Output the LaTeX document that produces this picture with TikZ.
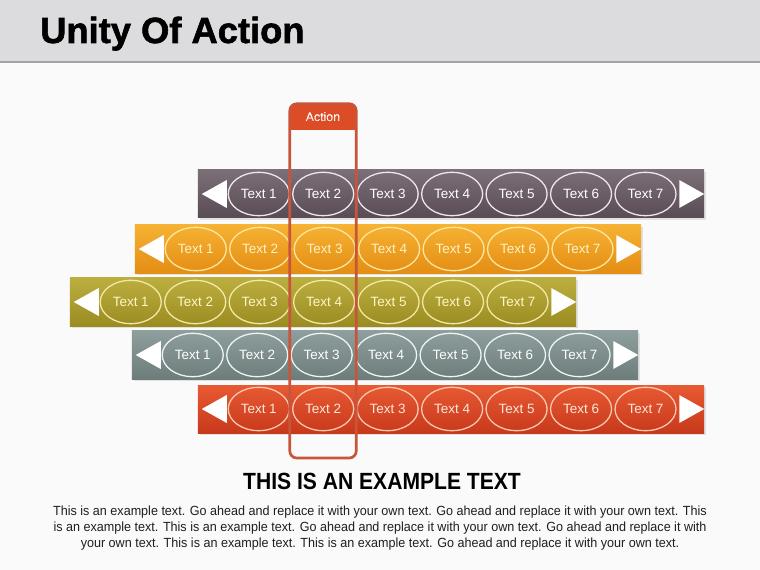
\documentclass[tikz,border=0pt]{standalone}
\usepackage{fontspec}
\setmainfont{Liberation Sans}
\newfontfamily\narrowfont[FakeStretch=0.9]{Liberation Sans}
\newfontfamily\bodyfont[FakeStretch=0.95]{Liberation Sans}
\newfontfamily\heavyfont[FakeBold=1.6]{Liberation Sans Bold}
\usetikzlibrary{positioning,shapes.geometric,shadows}

\definecolor{pagebg}{HTML}{FAFAFA}
\definecolor{titlebg}{HTML}{DCDBDD}
\definecolor{titleline}{HTML}{A3A3A5}
\definecolor{mauveA}{HTML}{7D6F78}
\definecolor{mauveB}{HTML}{594B54}
\definecolor{mauveL}{HTML}{EFE6EE}
\definecolor{mauveT}{HTML}{FFFFFF}
\definecolor{orangeA}{HTML}{F6B233}
\definecolor{orangeB}{HTML}{E48E14}
\definecolor{orangeL}{HTML}{FBE7A0}
\definecolor{orangeT}{HTML}{FFF2C0}
\definecolor{oliveA}{HTML}{BCAE3E}
\definecolor{oliveB}{HTML}{9B8C22}
\definecolor{oliveL}{HTML}{F2E9A6}
\definecolor{oliveT}{HTML}{FFF6C8}
\definecolor{slateA}{HTML}{8E9E9C}
\definecolor{slateB}{HTML}{6D7D7B}
\definecolor{slateL}{HTML}{EEF4F3}
\definecolor{slateT}{HTML}{FFFFFF}
\definecolor{redA}{HTML}{E85A33}
\definecolor{redB}{HTML}{C7391B}
\definecolor{redL}{HTML}{F9C8B0}
\definecolor{redT}{HTML}{FFE6DC}
\definecolor{actline}{HTML}{C8553B}
\definecolor{acthead}{HTML}{DC4C26}

\begin{document}
\begin{tikzpicture}[
    x = 0.03cm, y = -0.03cm, % one unit = one pixel of the slide
    bar/.style = {minimum width = 15.18cm, minimum height = 1.44cm, inner sep = 0pt,
        drop shadow = {opacity = 0.2, shadow xshift = 0.5mm, shadow yshift = -0.5mm}},
    oval/.style = {ellipse, draw, line width = 1.1pt, minimum width = 1.83cm,
        minimum height = 1.3cm, inner sep = 0pt, font = \fontsize{11.5}{13}\selectfont},
    ]

    \tikzset{
    mauve/.style = {top color = mauveA, bottom color = mauveB},
    orange/.style = {top color = orangeA, bottom color = orangeB},
    olive/.style = {top color = oliveA, bottom color = oliveB},
    slate/.style = {top color = slateA, bottom color = slateB},
    rust/.style = {top color = redA, bottom color = redB}
    }

    \useasboundingbox (0,0) rectangle (760,570);
    \fill[pagebg] (0,0) rectangle (760,570);
    \fill[titlebg] (0,0) rectangle (760,62);
    \draw[titleline, line width = 1.2pt] (0,62) -- (760,62);
    \node[anchor = base west, inner sep = 0pt, font = \heavyfont\fontsize{31}{33}\selectfont] (title) at (40,43) {Unity Of Action};

    % the five bars
    \node[bar, mauve] (r1) at (451,194) {};
    \node[bar, orange] (r2) at (388,249) {};
    \node[bar, olive] (r3) at (323,302) {};
    \node[bar, slate] (r4) at (385,355) {};
    \node[bar, rust] (r5) at (451,409) {};

    % ovals and arrow heads on each bar
    \foreach \row/\ln/\tx in {r1/mauveL/mauveT, r2/orangeL/orangeT, r3/oliveL/oliveT, r4/slateL/slateT, r5/redL/redT}{
        \node[oval, draw = \ln, text = \tx] (\row-1) at ([xshift = 1.83cm]\row.west) {Text 1};
        \foreach \i [count = \k from 1] in {2,...,7}
            \node[oval, draw = \ln, text = \tx, right = 0.65mm of \row-\k] (\row-\i) {Text \i};
        \fill[white] ([xshift = 0.12cm]\row.west) -- ++(0.75cm,0.42cm) -- ++(0,-0.84cm) -- cycle;
        \fill[white] (\row.east) -- ++(-0.75cm,0.42cm) -- ++(0,-0.84cm) -- cycle;
    }

    % action column
    \node[fill = acthead, rounded corners = 5pt, minimum width = 1.98cm, minimum height = 0.78cm,
        text = white, font = \fontsize{10.5}{12}\selectfont] (act) at (323,117) {Action};
    \fill[acthead] (act.west) rectangle (act.south east);
    \node[text = white, font = \fontsize{10.5}{12}\selectfont] at (act) {Action};
    \draw[actline, line width = 2.3pt, rounded corners = 6pt] (act.north west) rectangle (act.east |- 0,458);

    % text below
    \node[font = \narrowfont\fontsize{20}{22}\selectfont\bfseries] (head) at (382,481) {THIS IS AN EXAMPLE TEXT};
    \node[align = center, text = black!88, font = \bodyfont\fontsize{11.3}{13.8}\selectfont] (body) at (380,528)
        {This is an example text. Go ahead and replace it with your own text. Go ahead and replace it with your own text. This\\
         is an example text. This is an example text. Go ahead and replace it with your own text. Go ahead and replace it with\\
         your own text. This is an example text. This is an example text. Go ahead and replace it with your own text.};
\end{tikzpicture}
\end{document}
